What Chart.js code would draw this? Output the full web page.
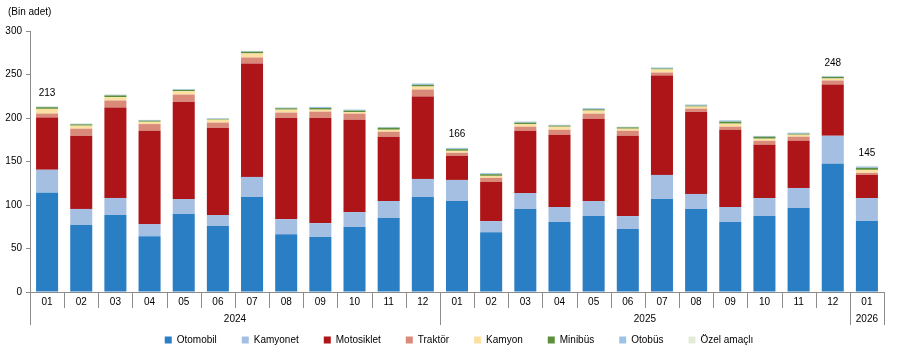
<!DOCTYPE html>
<html><head><meta charset="utf-8">
<script src="https://cdn.jsdelivr.net/npm/chart.js@4/dist/chart.umd.min.js"></script>
<style>html,body{margin:0;padding:0;background:#fff}#wrap{width:902px;height:355px}</style>
</head><body><div id="wrap"><canvas id="c" width="902" height="355"></canvas></div>
<script>
const months = ['01','02','03','04','05','06','07','08','09','10','11','12','01','02','03','04','05','06','07','08','09','10','11','12','01'];
const years = ['2024','2025','2026'];
const yearSpans = [12, 12, 1];
const yTicks = [0, 50, 100, 150, 200, 250, 300];
const unitLabel = '(Bin adet)';
const totalLabelIndex = [0, 12, 23, 24];

const seriesNames = ['Otomobil','Kamyonet','Motosiklet','Traktör','Kamyon','Minibüs','Otobüs','Özel amaçlı'];
const otomobil   = [114, 77, 88.5, 64.2, 89.6, 75.8, 109.2, 66.5, 63.1, 74.6, 85, 109.2, 104.6, 68.8, 95.4, 80.4, 87.3, 72.3, 106.9, 95.4, 80.4, 87.3, 96.5, 147.3, 81.5];
const kamyonet   = [26.5, 18.5, 19.6, 13.8, 17.3, 12.7, 23.1, 17.3, 16.1, 17.3, 19.6, 20.8, 24.2, 12.7, 18.4, 17.3, 17.3, 15, 27.7, 17.3, 17.3, 20.7, 23.1, 32.3, 26.5];
const motosiklet = [60, 84.2, 104, 107.3, 111.9, 100.4, 130.4, 116.6, 121.2, 106.1, 73.9, 94.6, 27.7, 45, 71.6, 83.1, 94.6, 92.3, 114.2, 94.6, 88.8, 61.2, 54.2, 58.9, 26.6];
const traktor    = [4.6, 8, 8, 7.7, 8.1, 5.8, 6.9, 5.8, 6.9, 7, 5.7, 8.1, 3.5, 4.7, 4.6, 5.7, 5.8, 5.8, 3.5, 3.5, 3.5, 4.6, 4.7, 4.6, 2.3];
const kamyon     = [5.4, 3.5, 3.8, 2.7, 3.9, 3.4, 4.6, 3.4, 2.3, 1.9, 2.3, 3.5, 2.3, 2.3, 3, 3.5, 3.5, 2.3, 3.5, 2.3, 3.5, 2.4, 2.3, 2.3, 3.5];
const minibus    = [1.9, 1.5, 2, 1.2, 1.5, 0.8, 2, 1.6, 1.9, 1.6, 2.3, 1.9, 1.9, 1.9, 1.6, 1.2, 1.5, 1.5, 1.1, 1.1, 2.3, 2.3, 1.1, 1.9, 2.3];
const otobus     = [0.6, 0.7, 0.8, 0.8, 0.8, 0.8, 0.7, 0.8, 1.2, 1.1, 0.7, 1.5, 1.2, 1.2, 1.2, 0.8, 1.2, 0.6, 1.1, 1.2, 1.5, 0.8, 1.2, 0.7, 1.5];
const ozelAmacli = [0.4, 0.3, 0.5, 0.3, 0.4, 0.3, 0.3, 0.3, 0.3, 0.3, 0.3, 0.4, 0.5, 0.3, 0.3, 0.4, 0.3, 0.3, 0.3, 0.3, 0.3, 0.3, 0.3, 0.3, 0.8];

const seriesData = [otomobil, kamyonet, motosiklet, traktor, kamyon, minibus, otobus, ozelAmacli];
const colors = ['#2a7ec4','#a5bfe3','#ae1519','#d98a79','#fbe0a2','#5b8f3b','#9dc3e6','#e4ecd8'];
const FONT = 'Liberation Sans, Arial, sans-serif';

const legendShift = {
  id: 'legendShift',
  afterLayout(chart) {
    if (chart.legend) { chart.legend.left += 17; chart.legend.right += 17; }
  }
};

const decorPlugin = {
  id: 'decor',
  afterDraw(chart) {
    const ctx = chart.ctx;
    const xs = chart.scales.x;
    const ca = chart.chartArea;
    const step = xs.getPixelForValue(1) - xs.getPixelForValue(0);
    const boundary = i => xs.getPixelForValue(0) - step / 2 + i * step;
    ctx.save();
    ctx.strokeStyle = '#8c8c8c';
    ctx.lineWidth = 1;
    const yearBounds = [0];
    let acc = 0;
    yearSpans.forEach(s => { acc += s; yearBounds.push(acc); });
    for (let i = 0; i <= months.length; i++) {
      const x = Math.round(boundary(i)) + 0.5;
      const long = yearBounds.includes(i);
      ctx.beginPath();
      ctx.moveTo(x, ca.bottom);
      ctx.lineTo(x, ca.bottom + (long ? 33 : 16));
      ctx.stroke();
    }
    ctx.fillStyle = '#000';
    ctx.font = '10px ' + FONT;
    ctx.textAlign = 'center';
    ctx.textBaseline = 'middle';
    years.forEach((y, k) => {
      const cx = (boundary(yearBounds[k]) + boundary(yearBounds[k + 1])) / 2;
      ctx.fillText(y, cx, ca.bottom + 27);
    });
    ctx.textAlign = 'left';
    ctx.fillText(unitLabel, 8, 12);
    const lastMeta = chart.getDatasetMeta(seriesData.length - 1);
    totalLabelIndex.forEach(i => {
      const total = seriesData.reduce((s, arr) => s + arr[i], 0);
      const el = lastMeta.data[i];
      ctx.textAlign = 'center';
      ctx.fillText(String(Math.round(total)), el.x, el.y - 13);
    });
    ctx.restore();
  }
};

new Chart(document.getElementById('c'), {
  type: 'bar',
  data: {
    labels: months,
    datasets: seriesNames.map((name, k) => ({
      label: name,
      data: seriesData[k],
      backgroundColor: colors[k],
      borderWidth: 0,
      barPercentage: 0.645,
      categoryPercentage: 1
    }))
  },
  options: {
    responsive: false,
    devicePixelRatio: 1,
    animation: false,
    layout: { padding: { top: 31, right: 18, left: 0, bottom: 0 } },
    plugins: {
      legend: {
        position: 'bottom',
        labels: {
          font: { size: 10, family: FONT },
          color: '#000',
          boxWidth: 7,
          boxHeight: 7,
          padding: 25
        }
      },
      tooltip: { enabled: false }
    },
    scales: {
      x: {
        stacked: true,
        grid: { display: false, drawTicks: false },
        border: { display: true, color: '#8c8c8c' },
        ticks: { font: { size: 10, family: FONT }, color: '#000', padding: 4, maxRotation: 0, autoSkip: false },
        afterFit(scale) { scale.height = 18; }
      },
      y: {
        stacked: true,
        min: 0, max: 300,
        afterBuildTicks(scale) { scale.ticks = yTicks.map(v => ({ value: v })); },
        grid: { display: true, drawOnChartArea: false, drawTicks: true, tickLength: 4, color: '#8c8c8c' },
        border: { display: true, color: '#8c8c8c' },
        ticks: { font: { size: 10, family: FONT }, color: '#000', padding: 4 },
        afterFit(scale) { scale.width = 30; }
      }
    }
  },
  plugins: [decorPlugin, legendShift]
});
</script></body></html>
